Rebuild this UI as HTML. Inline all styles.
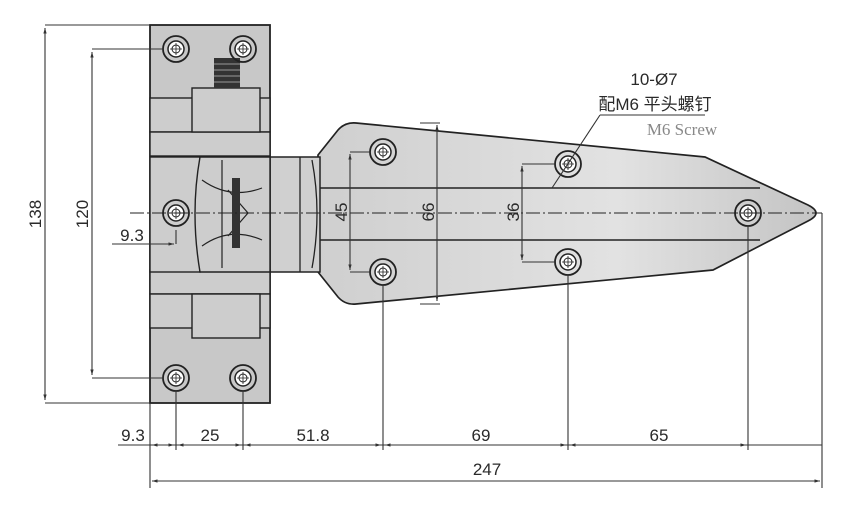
<!DOCTYPE html>
<html><head><meta charset="utf-8"><style>
html,body{margin:0;padding:0;background:#fff;}
svg{display:block;}
text{font-family:"Liberation Sans","Noto Sans CJK SC",sans-serif;fill:#2a2a2a;}
</style></head><body>
<svg width="860" height="512" viewBox="0 0 860 512" xmlns="http://www.w3.org/2000/svg">
<defs>
<linearGradient id="lg" x1="0" x2="1" y1="0" y2="0">
<stop offset="0" stop-color="#cfcfcf"/><stop offset="0.6" stop-color="#e2e2e2"/><stop offset="1" stop-color="#c4c4c4"/>
</linearGradient>
<marker id="a" viewBox="0 0 10 10" refX="10" refY="5" markerWidth="5" markerHeight="5" orient="auto-start-reverse"><path d="M0,2L10,5L0,8z" fill="#333"/></marker>
<g id="hole"><circle r="13" fill="none" stroke="#222" stroke-width="1.8"/><circle r="8" fill="#fff" stroke="#222" stroke-width="1.5"/><circle r="4" fill="#fff" stroke="#222" stroke-width="1"/><path d="M-6,0H6M0,-6V6" stroke="#222" stroke-width="0.8"/></g>
</defs>
<path d="M318,155 L338,130 Q345,122 356,123 L705,157 L808,205 Q824,213 808,221 L713,270 L356,304 Q345,305 338,297 L318,272 Z" fill="url(#lg)" stroke="#222" stroke-width="1.7"/>
<path d="M290,188 H760 M290,240 H760" stroke="#222" stroke-width="1.5"/>
<rect x="262" y="157" width="58" height="115" fill="#d0d0d0" stroke="#222" stroke-width="1.5"/>
<path d="M300,157 V272 M312,160 Q322,213 312,268" stroke="#222" fill="none" stroke-width="1.3"/>
<rect x="150" y="25" width="120" height="378" fill="#c8c8c8" stroke="#222" stroke-width="1.8"/>
<g stroke="#222" stroke-width="1.4" fill="#cdcdcd">
<rect x="150" y="98" width="120" height="34"/><rect x="150" y="132" width="120" height="24"/>
<rect x="192" y="88" width="68" height="44"/>
<rect x="150" y="270" width="120" height="24"/><rect x="150" y="294" width="120" height="34"/>
<rect x="192" y="294" width="68" height="44"/>
<rect x="150" y="157" width="50" height="115"/>
<path d="M200,157 H270 V272 H200 Q190,213 200,157Z"/>
</g>
<path d="M222,160 V268 M202,180 Q230,200 262,188 M202,246 Q230,226 262,240 M228,190 L248,213 L228,236" stroke="#222" stroke-width="1.2" fill="none"/>
<rect x="232" y="178" width="8" height="70" fill="#333"/>
<rect x="214" y="58" width="26" height="30" fill="#333"/>
<path d="M214,64H240M214,70H240M214,76H240M214,82H240" stroke="#999" stroke-width="1"/>
<use href="#hole" x="176" y="49"/><use href="#hole" x="243" y="49"/>
<use href="#hole" x="176" y="213"/>
<use href="#hole" x="176" y="378"/><use href="#hole" x="243" y="378"/>
<use href="#hole" x="383" y="152"/><use href="#hole" x="383" y="272"/>
<use href="#hole" x="568" y="164"/><use href="#hole" x="568" y="262"/>
<use href="#hole" x="748" y="213"/>
<path d="M130,213 H822" stroke="#222" stroke-width="1.1" stroke-dasharray="14,3,2,3"/>
<g stroke="#333" stroke-width="1.1" fill="none">
<path d="M45,25 H150 M45,403 H150"/>
<path d="M45,28 V400" marker-start="url(#a)" marker-end="url(#a)"/>
<path d="M92,49 H163 M92,378 H163"/>
<path d="M92,52 V375" marker-start="url(#a)" marker-end="url(#a)"/>
<path d="M176,230 V244 M112,244 H174" marker-end="url(#a)"/>
<path d="M150,403 V488 M176,391 V450 M243,391 V450 M383,285 V450 M568,275 V450 M748,226 V450 M822,213 V488"/>
<path d="M118,445 H822"/>
<path d="M152,445 H174" marker-start="url(#a)" marker-end="url(#a)"/>
<path d="M178,445 H241" marker-start="url(#a)" marker-end="url(#a)"/>
<path d="M245,445 H381" marker-start="url(#a)" marker-end="url(#a)"/>
<path d="M385,445 H566" marker-start="url(#a)" marker-end="url(#a)"/>
<path d="M570,445 H746" marker-start="url(#a)" marker-end="url(#a)"/>
<path d="M152,481 H820" marker-start="url(#a)" marker-end="url(#a)"/>
<path d="M350,154 V270" marker-start="url(#a)" marker-end="url(#a)"/>
<path d="M350,152 H370 M350,272 H370"/>
<path d="M437,125 V301" marker-start="url(#a)" marker-end="url(#a)"/>
<path d="M420,123 H440 M420,304 H440"/>
<path d="M522,166 V260" marker-start="url(#a)" marker-end="url(#a)"/>
<path d="M522,164 H555 M522,262 H555"/>
<path d="M600,115 H705 M600,115 L552,188"/>
</g>
<g font-size="17">
<text transform="translate(41,214) rotate(-90)" text-anchor="middle">138</text>
<text transform="translate(88,214) rotate(-90)" text-anchor="middle">120</text>
<text transform="translate(347,212) rotate(-90)" text-anchor="middle">45</text>
<text transform="translate(434,212) rotate(-90)" text-anchor="middle">66</text>
<text transform="translate(519,212) rotate(-90)" text-anchor="middle">36</text>
<text x="132" y="241" text-anchor="middle">9.3</text>
<text x="133" y="441" text-anchor="middle">9.3</text>
<text x="210" y="441" text-anchor="middle">25</text>
<text x="313" y="441" text-anchor="middle">51.8</text>
<text x="481" y="441" text-anchor="middle">69</text>
<text x="659" y="441" text-anchor="middle">65</text>
<text x="487" y="475" text-anchor="middle">247</text>
<text x="654" y="85" text-anchor="middle">10-Ø7</text>
<text x="655" y="110" text-anchor="middle">配M6 平头螺钉</text>
<text x="682" y="135" text-anchor="middle" style="font-family:'Liberation Serif',serif;fill:#888">M6 Screw</text>
</g>
</svg>
</body></html>
